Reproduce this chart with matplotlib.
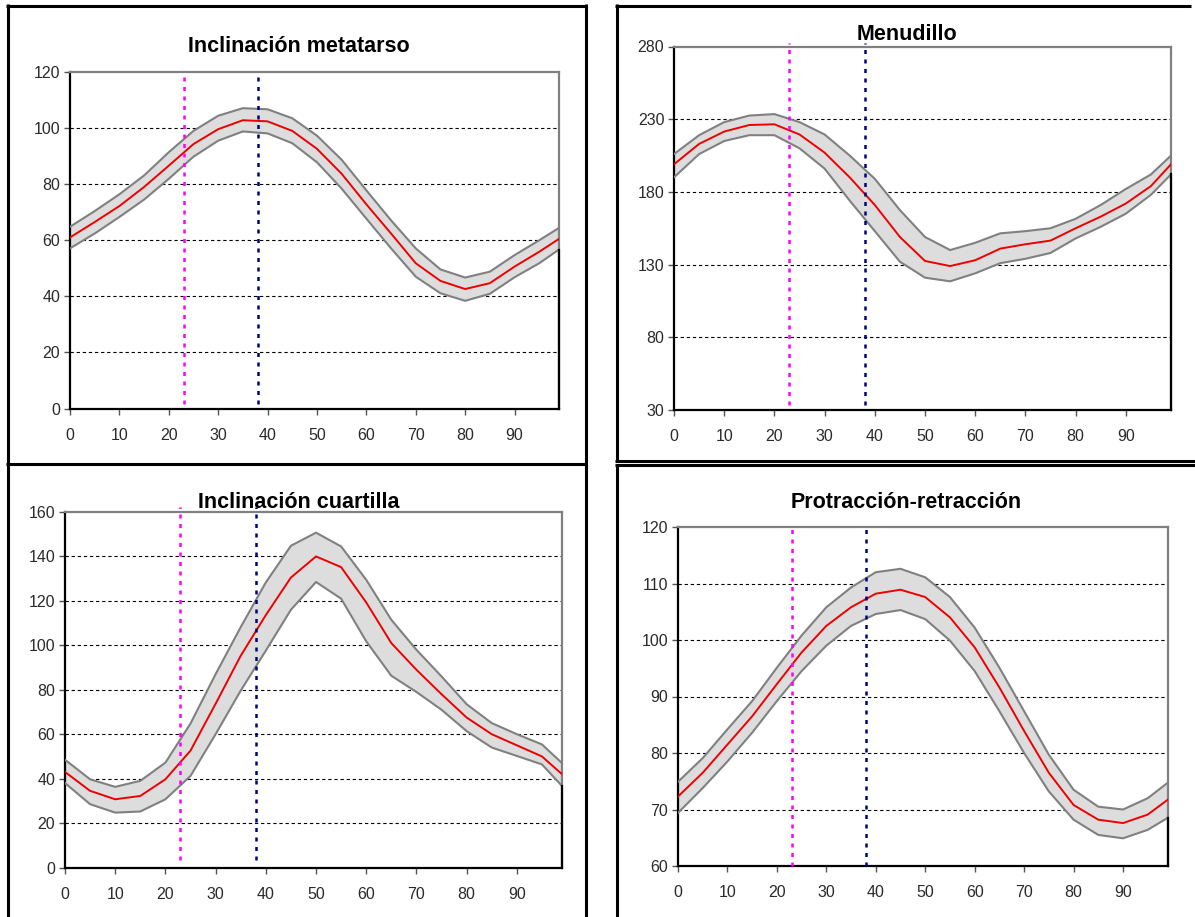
import numpy as np
import matplotlib.pyplot as plt
from matplotlib.lines import Line2D

plt.rcParams['font.family'] = ['Liberation Sans', 'DejaVu Sans']

W, H = 1195, 917

# % of the cycle
x = [0, 5, 10, 15, 20, 25, 30, 35, 40, 45, 50, 55, 60, 65, 70, 75, 80, 85, 90, 95, 99]
x_ticks = [0, 10, 20, 30, 40, 50, 60, 70, 80, 90]
phase_lines = [23, 38]

# Inclinación metatarso
meta_mean = [61, 66.5, 72.2, 79, 86.6, 94.3, 99.6, 102.8, 102.4, 99, 92.6, 83.7, 72.8, 62.4, 51.8, 45.5, 42.6, 44.7, 50.6, 55.9, 60.5]
meta_up = [64.8, 70.4, 76.4, 83.1, 91.4, 99, 104.4, 107.1, 106.7, 103.5, 97.3, 88.7, 77.8, 67.1, 57.1, 49.6, 46.7, 48.8, 54.7, 60, 64.4]
meta_lo = [57.1, 62.4, 68.3, 74.5, 81.9, 89.8, 95.5, 98.8, 98.1, 94.6, 87.8, 78.4, 67.7, 57.1, 47, 41.1, 38.4, 40.9, 46.8, 51.8, 56.7]

# Menudillo
menu_mean = [199, 213, 221.5, 226, 226.5, 219.5, 207, 190, 171, 149, 132.5, 129, 133, 141, 144, 146.5, 155, 163, 172, 184, 199]
menu_up = [206, 219, 228, 232.5, 233.5, 228, 219.5, 205, 189, 167.5, 149, 140, 145, 151.5, 153, 155, 161.5, 171, 182, 192, 205]
menu_lo = [190, 206, 215, 219, 219, 210, 196, 174, 153, 132, 121, 118.5, 124, 131, 134, 138, 148, 156, 165, 178, 192]

# Inclinación cuartilla
cuar_mean = [43, 34.5, 30.7, 32.2, 39.7, 52.6, 73.7, 95.3, 113.6, 130.5, 140, 135.2, 119.3, 101, 89, 78, 67.5, 60, 55, 50, 42]
cuar_up = [48.5, 39.7, 36.3, 39, 47.2, 64.8, 87, 108.2, 128.3, 144.8, 150.7, 144.5, 129.5, 111.5, 98, 86, 73.5, 65, 60, 55.4, 47]
cuar_lo = [38, 28.5, 24.7, 25.2, 30.7, 41.2, 60, 79.6, 97.6, 116, 128.5, 121, 101.8, 86.3, 79, 71, 61.4, 54, 50.2, 46.4, 36.7]

# Protracción-retracción
prot_mean = [72.3, 76.5, 81.5, 86.5, 92.2, 97.8, 102.5, 105.8, 108.2, 108.9, 107.6, 104, 98.7, 91.6, 83.9, 76.5, 70.8, 68.2, 67.6, 69.1, 71.7]
prot_up = [74.9, 79.1, 84.2, 89.2, 95.1, 100.8, 105.8, 109.3, 112, 112.6, 111.1, 107.6, 102.2, 95.1, 87.4, 79.7, 73.5, 70.5, 70, 72, 74.7]
prot_lo = [69.4, 73.8, 78.5, 83.6, 89.2, 94.5, 99, 102.5, 104.6, 105.3, 103.7, 99.9, 94.5, 87.4, 80, 73.2, 68.2, 65.5, 64.9, 66.4, 68.5]

panels = [
    dict(title='Inclinación metatarso', mean=meta_mean, up=meta_up, lo=meta_lo,
         ylim=(0, 120), yticks=[0, 20, 40, 60, 80, 100, 120],
         box=(70, 72, 559, 408.5), title_xy=(299, 46), vext=(0.012, 1.0)),
    dict(title='Menudillo', mean=menu_mean, up=menu_up, lo=menu_lo,
         ylim=(30, 280), yticks=[30, 80, 130, 180, 230, 280],
         box=(674, 46.5, 1171, 410), title_xy=(907, 34), vext=(0.014, 1.011)),
    dict(title='Inclinación cuartilla', mean=cuar_mean, up=cuar_up, lo=cuar_lo,
         ylim=(0, 160), yticks=[0, 20, 40, 60, 80, 100, 120, 140, 160],
         box=(65, 512, 562, 867.5), title_xy=(299, 502), vext=(0.021, 1.014)),
    dict(title='Protracción-retracción', mean=prot_mean, up=prot_up, lo=prot_lo,
         ylim=(60, 120), yticks=[60, 70, 80, 90, 100, 110, 120],
         box=(678, 527, 1167.5, 866), title_xy=(906, 502), vext=(0.0, 1.0)),
]

fig = plt.figure(figsize=(W / 100, H / 100), dpi=100)
fig.patch.set_facecolor('white')

for p in panels:
    l, t, r, b = p['box']
    ax = fig.add_axes([l / W, 1 - b / H, (r - l) / W, (b - t) / H])
    ax.set_xlim(0, 99)
    ax.set_ylim(*p['ylim'])

    # dashed horizontal grid (inner ticks only)
    for yt in p['yticks'][1:-1]:
        ax.axhline(yt, color='black', lw=0.8, dashes=(3, 2.5), zorder=1)

    ax.fill_between(x, p['lo'], p['up'], facecolor='#dddddd', edgecolor='none', zorder=2)
    ax.plot(x, p['up'], color='#808080', lw=1.5, zorder=3)
    ax.plot(x, p['lo'], color='#808080', lw=1.5, zorder=3)
    ax.plot(x, p['mean'], color='#ee0000', lw=1.4, zorder=4)

    ymin, ymax = p['vext']
    ax.axvline(phase_lines[0], ymin=ymin, ymax=ymax, color='#ff00ff', lw=1.8,
               dashes=(1.6, 2.2), clip_on=False, zorder=5)
    ax.axvline(phase_lines[1], ymin=ymin, ymax=ymax, color='#000080', lw=1.8,
               dashes=(1.6, 2.2), clip_on=False, zorder=5)

    # black edge under the band at the right end
    ax.plot([99, 99], [p['ylim'][0], p['lo'][-1]], color='black', lw=1.6,
            clip_on=False, zorder=6)

    for s in ['left', 'bottom']:
        ax.spines[s].set_color('black')
        ax.spines[s].set_linewidth(1.6)
    for s in ['top', 'right']:
        ax.spines[s].set_color('#808080')
        ax.spines[s].set_linewidth(1.6)

    ax.set_xticks(x_ticks)
    ax.set_yticks(p['yticks'])
    ax.tick_params(axis='both', direction='out', length=4, width=1, color='#555555',
                   labelsize=11.5, labelcolor='#2a2a2a')
    ax.tick_params(axis='x', pad=10)
    ax.tick_params(axis='y', pad=3)

    tx, ty = p['title_xy']
    fig.text(tx / W, 1 - ty / H, p['title'], ha='center', va='center',
             fontsize=15.5, fontweight='bold', color='black', zorder=10)


def frame_line(x0, y0, x1, y1):
    fig.add_artist(Line2D([x0 / W, x1 / W], [1 - y0 / H, 1 - y1 / H],
                          transform=fig.transFigure, color='black', lw=2.2,
                          solid_capstyle='butt'))


# left column frame
frame_line(8, 4, 8, 917)
frame_line(585.5, 4, 585.5, 917)
frame_line(6.5, 5.5, 587, 5.5)
frame_line(6.5, 464, 587, 464)
# right column frames
frame_line(616.5, 4, 616.5, 461.5)
frame_line(615, 5.5, 1191, 5.5)
frame_line(615, 460.5, 1195, 460.5)
frame_line(616.5, 463.5, 616.5, 917)
frame_line(615, 465, 1195, 465)

fig.savefig('out.png', dpi=100, facecolor='white')
